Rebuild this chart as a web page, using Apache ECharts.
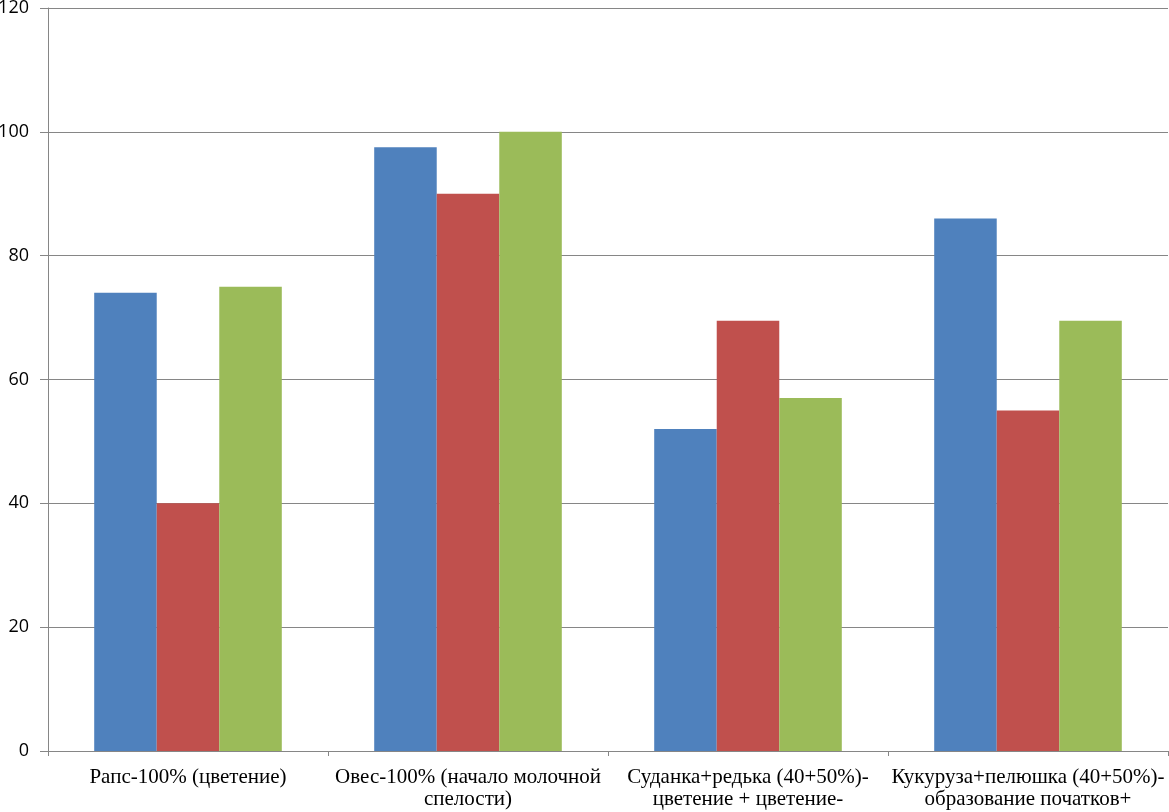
<!DOCTYPE html>
<html>
<head>
<meta charset="utf-8">
<script src="https://cdn.jsdelivr.net/npm/echarts@6/dist/echarts.min.js"></script>
<style>
html,body{margin:0;padding:0;background:#fff;}
#chart{width:1169px;height:812px;}
</style>
</head>
<body>
<div id="chart"></div>
<script>
const categories = [
  "Рапс-100% (цветение)",
  "Овес-100% (начало молочной\nспелости)",
  "Суданка+редька (40+50%)-\nцветение + цветение-",
  "Кукуруза+пелюшка (40+50%)-\nобразование початков+"
];
const series1 = [74, 97.5, 52, 86];
const series2 = [40, 90, 69.5, 55];
const series3 = [75, 100, 57, 69.5];
const yTicks = { min: 0, max: 120, interval: 20 };

const chart = echarts.init(document.getElementById('chart'), null, {renderer: 'canvas'});
const axisGray = '#868686';
chart.setOption({
  animation: false,
  backgroundColor: '#ffffff',
  grid: { left: 48, right: 1, top: 8, bottom: 61, containLabel: false, outerBoundsMode: 'none' },
  xAxis: {
    type: 'category',
    data: categories,
    axisLine: { lineStyle: { color: axisGray, width: 1 } },
    axisTick: { show: true, alignWithLabel: false, length: 5, lineStyle: { color: axisGray } },
    axisLabel: {
      interval: 0,
      margin: 15,
      fontFamily: 'Liberation Serif',
      fontSize: 21,
      lineHeight: 22,
      color: '#000',
      align: 'center'
    },
    splitLine: { show: false }
  },
  yAxis: {
    type: 'value',
    min: yTicks.min, max: yTicks.max, interval: yTicks.interval,
    axisLine: { show: true, lineStyle: { color: axisGray, width: 1 } },
    axisTick: { show: true, length: 8, lineStyle: { color: axisGray } },
    axisLabel: {
      margin: 19,
      fontFamily: 'Open Sans',
      fontSize: 18,
      color: '#000'
    },
    splitLine: { show: true, lineStyle: { color: axisGray, width: 1 } }
  },
  series: [
    { type: 'bar', data: series1, itemStyle: { color: '#4F81BD' }, barGap: '0%', barCategoryGap: '33%' },
    { type: 'bar', data: series2, itemStyle: { color: '#C0504D' }, barGap: '0%', barCategoryGap: '33%' },
    { type: 'bar', data: series3, itemStyle: { color: '#9BBB59' }, barGap: '0%', barCategoryGap: '33%' }
  ]
});
</script>
</body>
</html>
